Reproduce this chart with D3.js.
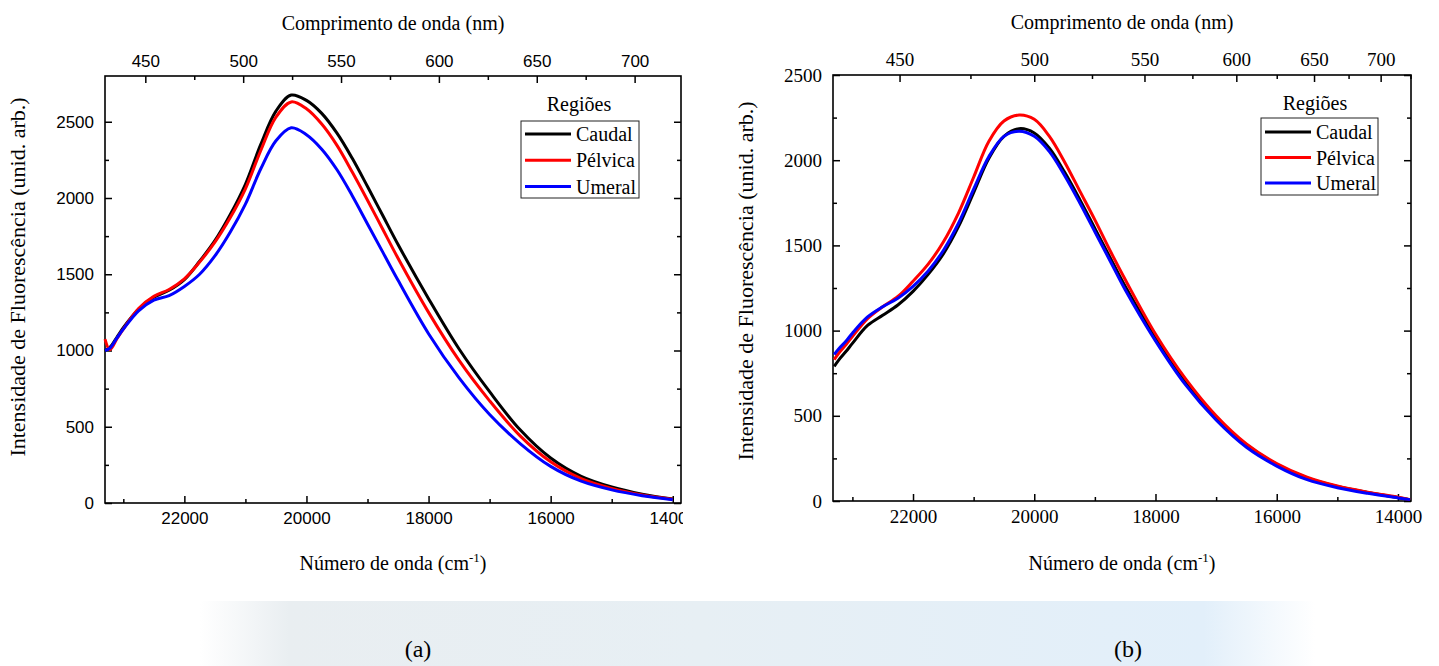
<!DOCTYPE html>
<html>
<head>
<meta charset="utf-8">
<script src="https://cdn.jsdelivr.net/npm/d3@7"></script>
<style>
  body { margin: 0; background: #fff; }
  svg { display: block; }
</style>
</head>
<body>
<div id="chart"></div>
<script>
// wavenumber grid (cm-1) shared by both panels
var wavenumber = [23300, 23220, 23100, 23000, 22750, 22500, 22250, 22000, 21750, 21500, 21250, 21000,
  20750, 20500, 20250, 20000, 19750, 19500, 19250, 19000, 18750, 18500, 18000, 17500,
  17000, 16500, 16000, 15500, 15000, 14500, 14000, 13800];

// panel (a)
var caudalA  = [1000, 1020, 1090, 1150, 1270, 1350, 1395, 1465, 1585, 1720, 1890, 2090,
  2350, 2570, 2675, 2640, 2555, 2425, 2260, 2075, 1885, 1695, 1340, 1010,
  730, 480, 295, 175, 105, 58, 27, 18];
var pelvicaA = [1075, 1005, 1080, 1140, 1275, 1355, 1400, 1470, 1580, 1710, 1870, 2060,
  2310, 2530, 2630, 2585, 2485, 2345, 2170, 1985, 1795, 1605, 1250, 935,
  670, 440, 270, 160, 96, 53, 25, 17];
var umeralA  = [1000, 1015, 1085, 1140, 1260, 1330, 1360, 1420, 1500, 1620, 1775, 1960,
  2190, 2375, 2460, 2415, 2320, 2185, 2015, 1830, 1645, 1460, 1110, 820,
  580, 390, 240, 143, 86, 48, 22, 15];

// panel (b)
var caudalB  = [790, 830, 880, 925, 1030, 1090, 1150, 1230, 1330, 1450, 1610, 1810,
  2010, 2140, 2185, 2160, 2070, 1930, 1770, 1600, 1430, 1260, 960, 700,
  490, 330, 215, 135, 85, 50, 20, 8];
var pelvicaB = [830, 870, 920, 965, 1070, 1140, 1200, 1290, 1390, 1520, 1690, 1900,
  2110, 2230, 2265, 2240, 2140, 1990, 1820, 1650, 1470, 1300, 980, 715,
  500, 335, 220, 140, 88, 52, 22, 8];
var umeralB  = [860, 895, 940, 985, 1080, 1140, 1190, 1260, 1350, 1470, 1630, 1830,
  2020, 2140, 2170, 2140, 2050, 1910, 1750, 1580, 1410, 1240, 940, 680,
  475, 315, 205, 125, 78, 45, 18, 8];

var seriesNames = ['Caudal', 'Pélvica', 'Umeral'];
var seriesColors = ['#000000', '#ff0000', '#0000ff'];

var wnMajor = [22000, 20000, 18000, 16000, 14000];
var wnMinor = [23000, 21000, 19000, 17000, 15000];
var nmMajor = [450, 500, 550, 600, 650, 700];
var nmMinor = [475, 525, 575, 625, 675, 725];
var yMajor = [0, 500, 1000, 1500, 2000, 2500];
var yMinor = [250, 750, 1250, 1750, 2250];

var width = 1439, height = 666;

var svg = d3.select('#chart').append('svg')
  .attr('width', width)
  .attr('height', height);

// soft blue band behind the (a) (b) captions
var defs = svg.append('defs');
var grad = defs.append('linearGradient').attr('id', 'band');
[[0, '#ffffff'], [0.08, '#e9eef1'], [0.45, '#e7eff4'], [0.9, '#e2effa'], [1, '#ffffff']]
  .forEach(function(s) {
    grad.append('stop').attr('offset', s[0]).attr('stop-color', s[1]);
  });
svg.append('rect')
  .attr('x', 200).attr('y', 601)
  .attr('width', 1115).attr('height', 65)
  .attr('fill', 'url(#band)');

var serif = '"Liberation Serif", "Times New Roman", serif';
var sans = '"Liberation Sans", Arial, sans-serif';

svg.append('text').attr('x', 418).attr('y', 657)
  .attr('text-anchor', 'middle')
  .style('font-family', serif)
  .style('font-size', '24px')
  .text('(a)');
svg.append('text').attr('x', 1128).attr('y', 657)
  .attr('text-anchor', 'middle')
  .style('font-family', serif)
  .style('font-size', '24px')
  .text('(b)');

function drawPanel(p) {
  var g = svg.append('g');
  if (p.clip) {
    defs.append('clipPath').attr('id', p.id + 'clip')
      .append('rect').attr('x', 0).attr('y', 0).attr('width', p.clip).attr('height', height);
    g.attr('clip-path', 'url(#' + p.id + 'clip)');
  }

  var x = d3.scaleLinear().domain(p.xDomain).range([p.left, p.right]);
  var y = d3.scaleLinear().domain([0, p.yMax]).range([p.bottom, p.top]);

  // bottom axis (wavenumber), ticks pointing inward
  var bottom = g.append('g').attr('transform', 'translate(0,' + p.bottom + ')');
  bottom.append('g').call(d3.axisBottom(x).tickValues(wnMinor).tickSize(-4).tickSizeOuter(0).tickFormat(''));
  bottom.append('g').call(d3.axisBottom(x).tickValues(wnMajor).tickSize(-7).tickSizeOuter(0)
    .tickPadding(p.tickPad).tickFormat(d3.format('d')));

  // top axis (wavelength)
  var top = g.append('g').attr('transform', 'translate(0,' + p.top + ')');
  var topAxis, topMinor;
  if (p.nmLinear) {
    var xn = d3.scaleLinear().domain(p.nmDomain).range([p.left, p.right]);
    topMinor = d3.axisTop(xn).tickValues(nmMinor.filter(function(d) { return d < p.nmDomain[1]; }));
    topAxis = d3.axisTop(xn).tickValues(nmMajor).tickFormat(d3.format('d'));
  } else {
    topMinor = d3.axisTop(x).tickValues(nmMinor.map(function(n) { return 1e7 / n; })
      .filter(function(w) { return w > p.xDomain[1]; }));
    topAxis = d3.axisTop(x).tickValues(nmMajor.map(function(n) { return 1e7 / n; }))
      .tickFormat(function(w) { return Math.round(1e7 / w); });
  }
  top.append('g').call(topMinor.tickSize(-4).tickSizeOuter(0).tickFormat(''));
  top.append('g').call(topAxis.tickSize(-7).tickSizeOuter(0).tickPadding(p.tickPad));

  // left axis
  var left = g.append('g').attr('transform', 'translate(' + p.left + ',0)');
  left.append('g').call(d3.axisLeft(y).tickValues(yMinor).tickSize(-4).tickSizeOuter(0).tickFormat(''));
  left.append('g').call(d3.axisLeft(y).tickValues(yMajor).tickSize(-7).tickSizeOuter(0)
    .tickPadding(p.tickPad + 2).tickFormat(d3.format('d')));

  // right axis, ticks only
  var right = g.append('g').attr('transform', 'translate(' + p.right + ',0)');
  right.append('g').call(d3.axisRight(y).tickValues(yMinor).tickSize(-4).tickSizeOuter(0).tickFormat(''));
  right.append('g').call(d3.axisRight(y).tickValues(yMajor).tickSize(-7).tickSizeOuter(0).tickFormat(''));

  g.selectAll('.domain').remove();
  g.selectAll('.tick line').attr('stroke', '#000').attr('stroke-width', 1.5);
  g.selectAll('.tick text')
    .attr('fill', '#000')
    .style('font-family', p.tickFont)
    .style('font-size', p.tickSize + 'px');

  // frame
  g.append('rect')
    .attr('x', p.left).attr('y', p.top)
    .attr('width', p.right - p.left).attr('height', p.bottom - p.top)
    .attr('fill', 'none').attr('stroke', '#000').attr('stroke-width', 1.6);

  // curves
  var line = d3.line()
    .x(function(d) { return x(d[0]); })
    .y(function(d) { return y(d[1]); })
    .curve(d3.curveCatmullRom.alpha(0.5));

  p.series.forEach(function(vals, i) {
    var pts = wavenumber.map(function(w, j) { return [w, vals[j]]; })
      .filter(function(d) { return d[0] >= p.xDomain[1]; });
    g.append('path')
      .datum(pts)
      .attr('d', line)
      .attr('fill', 'none')
      .attr('stroke', seriesColors[i])
      .attr('stroke-width', 3)
      .attr('stroke-linejoin', 'round');
  });

  // axis titles
  g.append('text')
    .attr('x', (p.left + p.right) / 2).attr('y', p.topTitleY)
    .attr('text-anchor', 'middle')
    .style('font-family', serif).style('font-size', '20px')
    .text('Comprimento de onda (nm)');

  var bt = g.append('text')
    .attr('x', (p.left + p.right) / 2).attr('y', p.bottomTitleY)
    .attr('text-anchor', 'middle')
    .style('font-family', serif).style('font-size', '20px');
  bt.append('tspan').text('Número de onda (cm');
  bt.append('tspan').attr('dy', -8).style('font-size', '13px').text('-1');
  bt.append('tspan').attr('dy', 8).text(')');

  g.append('text')
    .attr('transform', 'translate(' + p.yTitleX + ',' + p.yTitleY + ') rotate(-90)')
    .attr('text-anchor', 'middle')
    .style('font-family', serif).style('font-size', '22px')
    .text('Intensidade de Fluorescência (unid. arb.)');

  // legend
  var lg = g.append('g');
  lg.append('text')
    .attr('x', p.legend.titleX).attr('y', p.legend.titleY)
    .attr('text-anchor', 'middle')
    .style('font-family', serif).style('font-size', '20px')
    .text('Regiões');
  lg.append('rect')
    .attr('x', p.legend.x).attr('y', p.legend.y)
    .attr('width', p.legend.w).attr('height', p.legend.h)
    .attr('fill', '#fff').attr('stroke', '#222').attr('stroke-width', 1);
  seriesNames.forEach(function(name, i) {
    var ry = p.legend.rowY + i * p.legend.rowH;
    lg.append('line')
      .attr('x1', p.legend.x + 4).attr('x2', p.legend.x + 50)
      .attr('y1', ry).attr('y2', ry)
      .attr('stroke', seriesColors[i]).attr('stroke-width', 3);
    lg.append('text')
      .attr('x', p.legend.x + 55).attr('y', ry + 7)
      .style('font-family', serif).style('font-size', '20px')
      .text(name);
  });
}

drawPanel({
  id: 'a', left: 105, right: 681, top: 76, bottom: 503,
  xDomain: [23300, 13865], yMax: 2800,
  nmLinear: true, nmDomain: [429.4, 723.7],
  tickFont: sans, tickSize: 17, tickPad: 9,
  clip: 683,
  topTitleY: 30, bottomTitleY: 570, yTitleX: 25, yTitleY: 277,
  series: [caudalA, pelvicaA, umeralA],
  legend: { titleX: 579, titleY: 111, x: 521, y: 121, w: 118, h: 77, rowY: 134, rowH: 26.3 }
});

drawPanel({
  id: 'b', left: 833, right: 1411, top: 75, bottom: 501,
  xDomain: [23320, 13785], yMax: 2500,
  nmLinear: false,
  tickFont: serif, tickSize: 19, tickPad: 9,
  topTitleY: 29, bottomTitleY: 570, yTitleX: 753, yTitleY: 281,
  series: [caudalB, pelvicaB, umeralB],
  legend: { titleX: 1315, titleY: 110, x: 1261, y: 118, w: 117, h: 77, rowY: 132, rowH: 25.5 }
});
</script>
</body>
</html>
